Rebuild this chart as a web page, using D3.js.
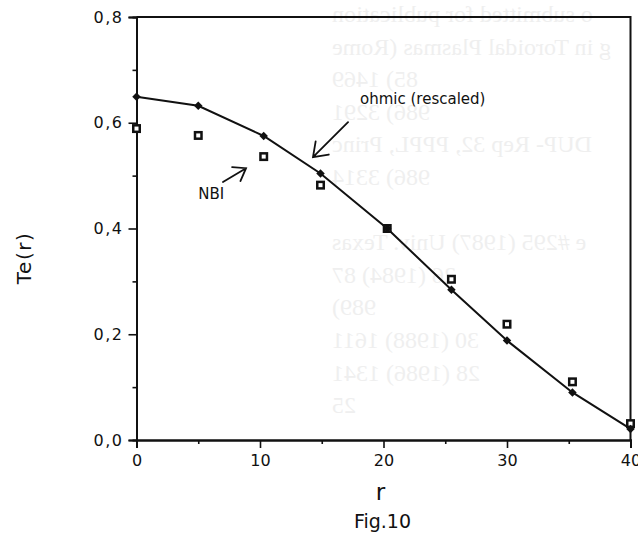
<!DOCTYPE html>
<html>
<head>
<meta charset="utf-8">
<script src="https://cdn.jsdelivr.net/npm/d3@7"></script>
<style>
  html, body { margin: 0; padding: 0; background: #fff; }
  svg { display: block; }
  text { font-family: "DejaVu Sans", "Noto Sans", sans-serif; fill: #111; }
</style>
</head>
<body>
<svg id="fig" width="638" height="534"></svg>
<script>
// Radial positions of the profile points
const radius  = [0, 5, 10.3, 14.9, 20.3, 25.5, 30, 35.3, 40];
// Electron temperature profiles
const teOhmic = [0.649, 0.632, 0.575, 0.504, 0.400, 0.284, 0.188, 0.090, 0.021];
const teNBI   = [0.589, 0.576, 0.536, 0.482, 0.400, 0.304, 0.219, 0.110, 0.031];

const xMajorTicks = [0, 10, 20, 30, 40];
const xMinorTicks = [5, 15, 25, 35];
const yMajorTicks = [0, 0.2, 0.4, 0.6, 0.8];
const yMinorTicks = [0.1, 0.3, 0.5, 0.7];

const xTitle = "r";
const yTitle = "Te(r)";
const caption = "Fig.10";
const ohmicNote = "ohmic (rescaled)";
const nbiNote = "NBI";

// Reference list printed on the reverse of the sheet, showing through the paper
const reverseLines = [
  "o submitted for publication",
  "g in Toroidal Plasmas (Rome",
  "85) 1469",
  "986) 3291",
  "DUP- Rep 32, PPPL, Princ",
  "986) 3314",
  "",
  "e #295 (1987) Univ. Texas",
  "26 (1984) 87",
  "989)",
  "30 (1988) 1611",
  "28 (1986) 1341",
  "25"
];

const svg = d3.select("#fig");
svg.append("rect").attr("width", 638).attr("height", 534).attr("fill", "#fff");

// faint show-through text, mirrored
const ghost = svg.append("g");
reverseLines.forEach((s, i) => {
  if (!s) return;
  ghost.append("text")
    .attr("transform", `translate(332,${22 + 32.6 * i}) scale(-1,1)`)
    .attr("text-anchor", "end")
    .style("font-family", "'Liberation Serif', 'DejaVu Serif', serif")
    .style("font-size", "24px")
    .style("fill", "#efefef")
    .text(s);
});

const x = d3.scaleLinear().domain([0, 40]).range([136.5, 630.5]);
const y = d3.scaleLinear().domain([0, 0.8]).range([440, 17]);

const fmt = d => d3.format(".1f")(d).replace(".", ",");

// frame (top and right edges)
svg.append("path")
  .attr("d", `M${x(0)},${y(0.8)}H${x(40)}V${y(0)}`)
  .attr("fill", "none").attr("stroke", "#111").attr("stroke-width", 2);

// axes
const gx = svg.append("g").attr("transform", `translate(0,${y(0)})`);
gx.call(d3.axisBottom(x).tickValues(xMajorTicks).tickSize(8).tickPadding(7).tickFormat(d3.format("d")));
const gxm = svg.append("g").attr("transform", `translate(0,${y(0)})`);
gxm.call(d3.axisBottom(x).tickValues(xMinorTicks).tickSize(4).tickFormat(""));

const gy = svg.append("g").attr("transform", `translate(${x(0)},0)`);
gy.call(d3.axisLeft(y).tickValues(yMajorTicks).tickSize(8).tickPadding(5).tickFormat(fmt));
const gym = svg.append("g").attr("transform", `translate(${x(0)},0)`);
gym.call(d3.axisLeft(y).tickValues(yMinorTicks).tickSize(4).tickFormat(""));

[gx, gxm, gy, gym].forEach(g => {
  g.selectAll(".domain").attr("stroke", "#111").attr("stroke-width", 2);
  g.selectAll(".tick line").attr("stroke", "#111").attr("stroke-width", 1.6);
  g.selectAll(".tick text").style("font-size", "16px")
    .style("font-family", "'DejaVu Sans', sans-serif").attr("fill", "#111");
});
gy.selectAll(".tick text").style("letter-spacing", "1.5px");

// ohmic profile line
const pts = radius.map((r, i) => ({ r, o: teOhmic[i], n: teNBI[i] }));
svg.append("path")
  .datum(pts)
  .attr("fill", "none").attr("stroke", "#111").attr("stroke-width", 2)
  .attr("d", d3.line().x(d => x(d.r)).y(d => y(d.o)));

// NBI points: open squares
const nb = svg.append("g").selectAll("g").data(pts).join("g")
  .attr("transform", d => `translate(${x(d.r)},${y(d.n)})`);
nb.append("rect").attr("x", -4.5).attr("y", -4.5).attr("width", 9).attr("height", 9).attr("fill", "#111");
nb.append("rect").attr("x", -2).attr("y", -2).attr("width", 4).attr("height", 4).attr("fill", "#fff");

// ohmic points: filled diamonds
svg.append("g").selectAll("path").data(pts).join("path")
  .attr("d", d3.symbol().type(d3.symbolSquare).size(36))
  .attr("transform", d => `translate(${x(d.r)},${y(d.o)}) rotate(45)`)
  .attr("fill", "#111");

// annotation arrows (open V heads)
function arrow(r0, v0, r1, v1, len, ang) {
  const x0 = x(r0), y0 = y(v0), x1 = x(r1), y1 = y(v1);
  const a = Math.atan2(y0 - y1, x0 - x1);
  const h1 = [x1 + len * Math.cos(a + ang), y1 + len * Math.sin(a + ang)];
  const h2 = [x1 + len * Math.cos(a - ang), y1 + len * Math.sin(a - ang)];
  svg.append("path")
    .attr("d", `M${x0},${y0}L${x1},${y1}M${h1[0]},${h1[1]}L${x1},${y1}L${h2[0]},${h2[1]}`)
    .attr("fill", "none").attr("stroke", "#111").attr("stroke-width", 1.8)
    .attr("stroke-linecap", "round");
}
arrow(17.13, 0.601, 14.29, 0.535, 16, 0.62);
arrow(7.0, 0.488, 8.87, 0.514, 14, 0.62);

svg.append("text").attr("x", x(18.1)).attr("y", y(0.636))
  .style("font-size", "15px").text(ohmicNote);
svg.append("text").attr("x", x(5.0)).attr("y", y(0.455))
  .style("font-size", "15px").text(nbiNote);

// titles
svg.append("text").attr("x", (x(0) + x(40)) / 2 - 3).attr("y", 500)
  .attr("text-anchor", "middle").style("font-size", "23px").text(xTitle);
svg.append("text").attr("x", (x(0) + x(40)) / 2 - 1).attr("y", 528)
  .attr("text-anchor", "middle").style("font-size", "19px").text(caption);
svg.append("text")
  .attr("transform", "translate(31,258) rotate(-90)")
  .attr("text-anchor", "middle").style("font-size", "20px").style("letter-spacing", "1.5px")
  .text(yTitle);
</script>
</body>
</html>
